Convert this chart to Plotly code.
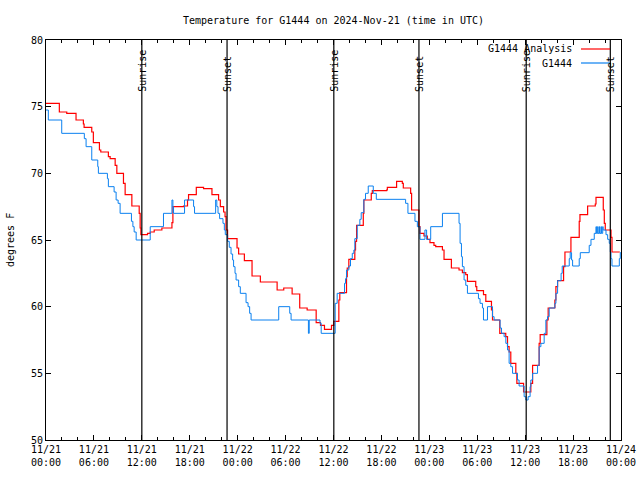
import pandas as pd
import plotly.graph_objects as go

BASE = pd.Timestamp("2024-11-21 00:00")

# Hours since 2024-11-21 00:00 UTC and temperatures (deg F) at each step change
analysis_hours = [0.0, 1.67, 2.6, 3.76, 4.68, 4.77, 5.73, 5.93, 6.69, 6.86, 7.81, 8.03, 8.66, 8.87, 9.70, 9.91,
                  10.75, 11.67, 11.79, 11.88, 12.71, 13.05, 13.55, 14.51, 15.77, 15.89, 17.22, 17.72, 17.85,
                  18.82, 19.73, 20.78, 21.61, 21.83, 22.24, 22.42, 22.54, 22.74, 23.92, 24.12, 24.84, 25.80,
                  26.84, 28.94, 29.77, 30.82, 31.77, 32.70, 33.83, 34.37, 34.87, 35.75, 36.04, 36.67, 36.79,
                  37.63, 37.72, 37.92, 38.67, 38.76, 38.89, 39.73, 39.80, 40.73, 40.86, 42.65, 42.74, 43.90,
                  44.62, 44.74, 45.66, 45.78, 46.70, 46.83, 47.33, 47.75, 48.08, 48.58, 48.80, 49.64, 49.84,
                  50.76, 51.72, 52.14, 52.56, 52.77, 53.81, 53.94, 54.78, 55.07, 55.78, 55.91, 56.82, 57.57,
                  57.79, 57.99, 58.20, 58.83, 58.96, 59.80, 60.71, 60.93, 61.75, 61.88, 62.72, 62.88, 63.72,
                  63.85, 64.06, 64.81, 64.98, 65.73, 66.77, 66.86, 67.82, 68.78, 68.87, 69.78, 69.91, 70.03,
                  70.75, 70.87, 71.85]
analysis_temps = [75.25, 74.6, 74.5, 74.0, 73.7, 73.45, 73.1, 72.3, 71.75, 71.6, 71.25, 71.1, 70.6, 70.0, 69.25, 68.4,
                  67.55, 67.0, 65.9, 65.4, 65.5, 65.6, 65.75, 65.9, 66.3, 67.5, 67.55, 68.0, 68.4,
                  68.95, 68.85, 68.4, 68.0, 67.5, 67.1, 66.75, 65.75, 65.1, 64.4, 63.95, 63.45, 62.3,
                  61.85, 61.25, 61.4, 60.95, 59.9, 59.75, 58.8, 58.6, 58.3, 58.6, 58.9, 60.5, 61.05,
                  62.25, 62.9, 63.55, 64.25, 64.9, 66.1, 67.0, 68.0, 68.5, 68.7, 68.75, 68.95, 69.4,
                  69.25, 68.9, 68.5, 67.25, 66.0, 65.5, 65.3, 65.05, 64.8, 64.6, 64.5, 64.25, 63.55,
                  62.9, 62.75, 62.55, 62.4, 61.9, 61.5, 61.2, 60.9, 60.4, 59.75, 59.0, 58.0, 57.75,
                  57.0, 56.6, 55.75, 55.0, 54.25, 53.6, 54.25, 55.6, 57.25, 57.9, 59.0, 59.9, 60.5,
                  61.5, 61.95, 63.0, 64.1, 65.2, 66.4, 66.9, 67.55, 67.7, 68.2, 67.25, 66.25, 65.75,
                  65.2, 64.1, 64.1]

obs_hours = [0.0, 0.29, 1.97, 4.80, 5.02, 5.73, 6.48, 6.56, 7.69, 7.81, 8.53, 8.78, 9.03, 9.28, 10.70, 10.88,
             11.04, 11.29, 13.05, 14.71, 15.77, 15.89, 15.97, 17.35, 18.48, 18.60, 21.24, 21.39, 21.54, 21.74,
             22.16, 22.33, 22.45, 22.74, 22.95, 23.17, 23.37, 23.49, 23.67, 23.80, 24.12, 24.33, 25.05, 25.30,
             25.50, 25.68, 29.14, 30.52, 30.69, 32.86, 32.96, 34.31, 34.46, 36.21, 36.46, 37.38, 37.51, 37.63,
             37.92, 38.13, 38.35, 38.55, 38.67, 38.97, 39.30, 39.47, 39.80, 40.01, 40.35, 40.98, 41.36, 45.03,
             45.32, 46.20, 46.50, 46.83, 47.45, 47.66, 48.17, 49.64, 51.72, 51.85, 52.02, 52.14, 52.35, 52.56,
             52.77, 54.15, 54.35, 54.65, 54.78, 55.28, 55.91, 56.11, 56.86, 57.04, 57.36, 57.58, 57.79, 57.99,
             58.20, 58.42, 59.04, 59.24, 59.87, 60.08, 60.37, 60.62, 60.71, 60.93, 61.55, 61.75, 61.97, 62.38,
             62.59, 62.80, 63.01, 63.72, 63.85, 64.06, 64.50, 64.64, 65.52, 65.64, 65.81, 65.94, 66.77, 66.90,
             68.02, 68.24, 68.65, 68.87, 68.92, 69.08, 69.13, 69.29, 69.34, 69.50, 69.55, 69.71, 69.76, 70.12,
             70.33, 70.53, 70.66, 70.75, 70.87, 71.79, 71.91, 72.0]
obs_temps = [74.75, 74.0, 73.0, 72.6, 72.0, 71.0, 70.5, 70.0, 69.6, 69.0, 68.6, 68.0, 67.75, 67.0, 66.4, 66.0,
             65.6, 65.0, 66.0, 67.0, 68.0, 67.5, 67.0, 68.0, 67.5, 67.0, 68.0, 67.5, 67.0, 66.6,
             66.25, 65.75, 65.4, 64.9, 64.45, 63.95, 63.5, 63.0, 62.5, 62.0, 61.5, 61.0, 60.3, 60.0,
             59.5, 59.0, 60.0, 59.5, 59.0, 58.0, 59.0, 58.75, 58.0, 60.25, 61.0, 61.75, 62.1, 62.75,
             63.05, 63.6, 64.0, 64.25, 65.1, 66.1, 66.55, 67.05, 68.05, 68.5, 69.05, 68.5, 68.05, 67.75,
             67.0, 66.4, 66.0, 65.05, 65.75, 65.05, 66.0, 67.0, 66.25, 64.75, 63.75, 63.0, 62.0, 61.6,
             61.0, 60.6, 60.25, 59.9, 59.0, 60.0, 59.25, 59.0, 58.4, 58.0, 57.75, 57.25, 56.75, 55.75,
             55.5, 55.0, 54.5, 54.05, 53.25, 53.0, 53.25, 54.0, 54.5, 55.0, 55.6, 57.0, 57.25, 58.0,
             59.0, 59.25, 59.9, 60.25, 61.0, 61.95, 62.5, 63.05, 63.6, 64.05, 63.5, 63.05, 63.6, 64.05,
             64.6, 65.05, 65.5, 66.0, 65.5, 66.0, 65.5, 66.0, 65.5, 66.0, 65.5, 66.0, 65.75, 65.4,
             65.05, 64.75, 64.1, 63.6, 63.05, 63.6, 64.05, 64.05]

sun_hours = [12.0, 22.67, 36.04, 46.7, 60.13, 70.66]
sun_labels = ["Sunrise", "Sunset", "Sunrise", "Sunset", "Sunrise", "Sunset"]

series_names = ["G1444 Analysis", "G1444"]
series_colors = ["#ff0000", "#0a80f0"]

FONT = "DejaVu Sans Mono"


def to_time(hours):
    return [BASE + pd.Timedelta(hours=h) for h in hours]


fig = go.Figure()
fig.add_trace(go.Scatter(x=to_time(analysis_hours), y=analysis_temps, mode="lines", line_shape="hv",
                         name=series_names[0], line=dict(color=series_colors[0], width=1.2), showlegend=False))
fig.add_trace(go.Scatter(x=to_time(obs_hours), y=obs_temps, mode="lines", line_shape="hv",
                         name=series_names[1], line=dict(color=series_colors[1], width=1.0), showlegend=False))

for h, lab in zip(sun_hours, sun_labels):
    t = BASE + pd.Timedelta(hours=h)
    fig.add_shape(type="line", xref="x", yref="paper", x0=t, x1=t, y0=0, y1=1,
                  line=dict(color="black", width=1.2), layer="above")
    fig.add_annotation(x=t, y=75.95, xref="x", yref="y", text=lab, textangle=-90, showarrow=False,
                       xanchor="center", yanchor="bottom", font=dict(family=FONT, size=10, color="black"))

# legend drawn gnuplot-style: right-aligned text followed by a line sample
W, H = 640, 480
L, R, T, B = 46, 19, 40, 40
pw, ph = W - L - R, H - T - B
legend_rows_y = [49, 63]
for name, color, ypx in zip(series_names, series_colors, legend_rows_y):
    yp = 1 - (ypx - T) / ph
    fig.add_annotation(x=(574 - L) / pw, y=yp, xref="paper", yref="paper", text=name, showarrow=False,
                       xanchor="right", yanchor="middle", font=dict(family=FONT, size=10, color="black"))
    fig.add_shape(type="line", xref="paper", yref="paper", x0=(581 - L) / pw, x1=(610 - L) / pw,
                  y0=yp, y1=yp, line=dict(color=color, width=1.2))

fig.add_annotation(x=(10 - L) / pw, y=0.5, xref="paper", yref="paper", text="degrees F", textangle=-90,
                   showarrow=False, xanchor="center", yanchor="middle",
                   font=dict(family=FONT, size=10, color="black"))

fig.update_layout(
    width=W, height=H,
    margin=dict(l=L, r=R, t=T, b=B, autoexpand=False),
    paper_bgcolor="white", plot_bgcolor="white",
    font=dict(family=FONT, size=10, color="black"),
    title=dict(text="Temperature for G1444 on 2024-Nov-21 (time in UTC)", x=0.5, xref="paper",
               y=1 - 20 / H, yanchor="middle", font=dict(family=FONT, size=10, color="black")),
    showlegend=False,
)
fig.update_xaxes(
    range=[BASE, BASE + pd.Timedelta(hours=72)],
    tick0=BASE, dtick=6 * 3600 * 1000, tickformat="%m/%d<br>%H:%M",
    ticks="inside", ticklen=5, tickcolor="black", showline=True, linecolor="black", linewidth=1,
    mirror="ticks", showgrid=False, zeroline=False,
    minor=dict(ticks="inside", ticklen=3, dtick=2 * 3600 * 1000, tickcolor="black", showgrid=False),
    tickfont=dict(family=FONT, size=10, color="black"),
)
fig.update_yaxes(
    range=[50, 80], dtick=5, tick0=50,
    ticks="inside", ticklen=5, tickcolor="black", showline=True, linecolor="black", linewidth=1,
    mirror="ticks", showgrid=False, zeroline=False,
    tickfont=dict(family=FONT, size=10, color="black"),
)

fig.write_html("out.html", config={"displayModeBar": False},
               post_script="document.body.style.margin='0px';")
